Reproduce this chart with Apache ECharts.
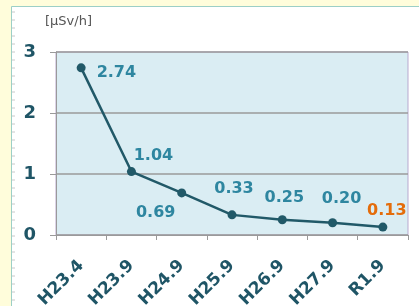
<!DOCTYPE html>
<html>
<head>
<meta charset="utf-8">
<script src="https://cdn.jsdelivr.net/npm/echarts@6/dist/echarts.min.js"></script>
<style>
  html, body { margin: 0; padding: 0; background: #FFFDDB; }
  #chart { width: 419px; height: 306px; }
</style>
</head>
<body>
<div id="chart"></div>
<script>
var categories = ['H23.4', 'H23.9', 'H24.9', 'H25.9', 'H26.9', 'H27.9', 'R1.9'];
var doseRates = [2.74, 1.04, 0.69, 0.33, 0.25, 0.20, 0.13];
var yTicks = [0, 1, 2, 3];

// label placement per point (as in the original)
var labelPos = [
  { position: 'right', offset: [6, 5] },
  { position: 'top', offset: [22, 2] },
  { position: 'bottom', offset: [-26, 2] },
  { position: 'top', offset: [2, -9] },
  { position: 'top', offset: [2, -4] },
  { position: 'top', offset: [9, -6] },
  { position: 'top', offset: [4, 1], color: '#E46C0A' }
];

var seriesData = doseRates.map(function (v, i) {
  var lp = labelPos[i];
  return {
    value: v,
    label: { position: lp.position, offset: lp.offset, color: lp.color || '#2E86A0' }
  };
});

// small ruler ticks along the left edge of the panel
var ruler = [];
for (var y = 12; y < 306; y += 8) {
  ruler.push({
    type: 'line',
    shape: { x1: 12, y1: y, x2: 15, y2: y },
    style: { stroke: '#C8C8C8', lineWidth: 1 },
    silent: true
  });
}

var chart = echarts.init(document.getElementById('chart'));
var option = {
  backgroundColor: '#FFFDDB',
  animation: false,
  textStyle: { fontFamily: 'DejaVu Sans' },
  graphic: [
    {
      type: 'rect',
      shape: { x: 11.5, y: 6.5, width: 420, height: 310 },
      style: { fill: '#FFFFFF', stroke: '#9CCFC6', lineWidth: 1 },
      z: -10,
      silent: true
    },
    {
      type: 'text',
      left: 45,
      top: 15,
      style: { text: '[μSv/h]', fill: '#555555', font: '13px "DejaVu Sans"' },
      silent: true
    }
  ].concat(ruler),
  grid: {
    left: 56,
    right: 11,
    top: 52,
    bottom: 71,
    outerBoundsMode: 'none',
    containLabel: false,
    show: true,
    backgroundColor: '#DAEDF3',
    borderColor: '#B9A9CF',
    borderWidth: 1
  },
  xAxis: {
    type: 'category',
    data: categories,
    boundaryGap: true,
    axisLine: { lineStyle: { color: '#9A9A9A', width: 1 } },
    axisTick: { show: true, length: 5, inside: false, lineStyle: { color: '#9A9A9A' } },
    axisLabel: {
      rotate: 45,
      margin: 28,
      color: '#1F5566',
      fontWeight: 'bold',
      fontSize: 17,
      fontFamily: 'DejaVu Sans'
    },
    splitLine: { show: false }
  },
  yAxis: {
    type: 'value',
    min: yTicks[0],
    max: yTicks[yTicks.length - 1],
    interval: 1,
    axisLine: { show: true, lineStyle: { color: '#9A9A9A', width: 1 } },
    axisTick: { show: true, length: 6, lineStyle: { color: '#9A9A9A' } },
    axisLabel: {
      margin: 20,
      color: '#1F5566',
      fontWeight: 'bold',
      fontSize: 18,
      fontFamily: 'DejaVu Sans'
    },
    splitLine: { show: true, lineStyle: { color: '#9A9A9A', width: 1.5 } }
  },
  series: [{
    type: 'line',
    data: seriesData,
    symbol: 'circle',
    symbolSize: 9,
    itemStyle: { color: '#215968' },
    lineStyle: { color: '#215968', width: 2.5 },
    label: {
      show: true,
      fontSize: 16,
      fontWeight: 'bold',
      fontFamily: 'DejaVu Sans',
      formatter: function (p) { return p.value.toFixed(2); }
    }
  }]
};
chart.setOption(option);
</script>
</body>
</html>
